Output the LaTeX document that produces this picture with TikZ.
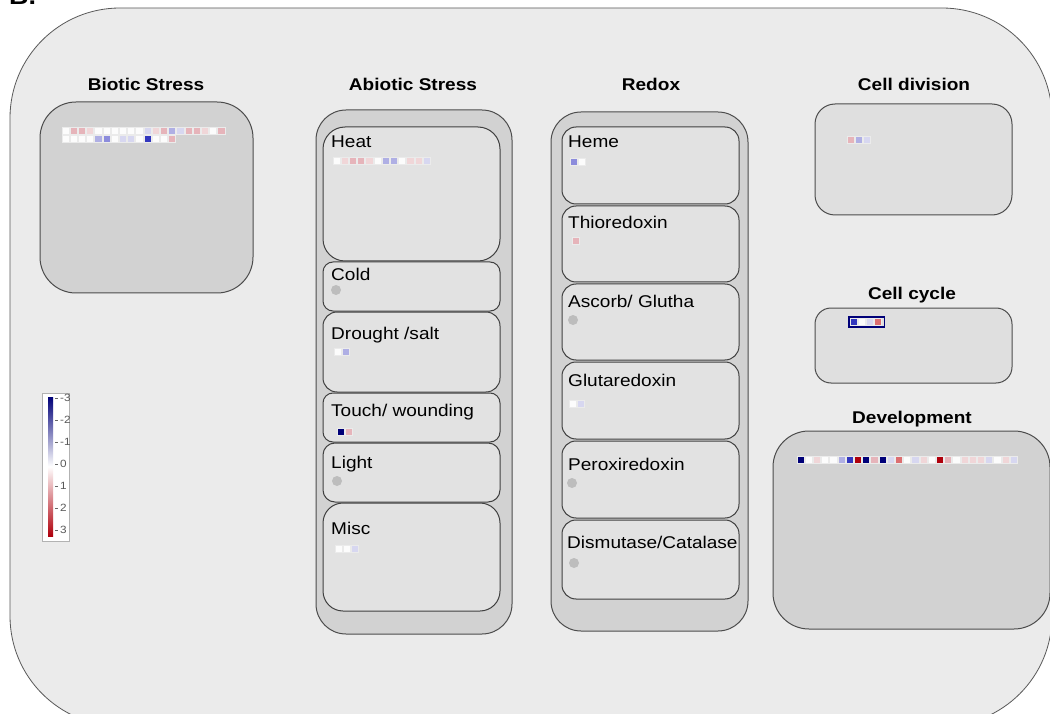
\documentclass[tikz,border=0pt]{standalone}
\usepackage{fontspec}
\setmainfont{Liberation Sans}[FakeStretch=1.12]
\definecolor{bgc}{HTML}{EBEBEB}
\definecolor{contc}{HTML}{D2D2D2}
\definecolor{innc}{HTML}{E2E2E2}
\definecolor{cellc}{HTML}{DFDFDF}
\definecolor{dotgray}{HTML}{BDBDBD}
\definecolor{nv}{RGB}{0,0,120}
\definecolor{bl}{RGB}{50,55,190}
\definecolor{mb}{RGB}{140,140,220}
\definecolor{lb}{RGB}{175,175,228}
\definecolor{pl}{RGB}{215,215,240}
\definecolor{wh}{RGB}{252,252,252}
\definecolor{pp}{RGB}{240,214,216}
\definecolor{lp}{RGB}{230,180,186}
\definecolor{sa}{RGB}{220,110,112}
\definecolor{dr}{RGB}{175,0,12}
\newcommand{\cellrow}[4]{%
  \foreach \cc [count=\ii from 0] in {#4} {%
    \filldraw[cellsq, fill=\cc] ({#1+\ii*#3},{#2}) rectangle +(7.2,7.2);}}
\tikzset{
  outerbox/.style={draw=black!65, fill=bgc, line width=0.8pt, rounded corners=110pt},
  contbox/.style={draw=black!70, fill=contc, line width=1pt},
  innerbox/.style={draw=black!75, fill=innc, line width=1pt, rounded corners=14pt},
  cellbox/.style={draw=black!70, fill=cellc, line width=1pt, rounded corners=20pt},
  ttl/.style={font=\bfseries\fontsize{17}{19}\selectfont, anchor=base, inner sep=0},
  lbl/.style={font=\fontsize{17}{19}\selectfont, anchor=base west, inner sep=0},
  leglbl/.style={font=\fontsize{10.5}{12}\selectfont, text=black!65, anchor=west, inner sep=0},
  dotc/.style={fill=dotgray},
  cellsq/.style={draw=black!8, line width=0.7pt}
}
\begin{document}
\begin{tikzpicture}[x=1pt,y=-1pt]
\useasboundingbox (0,0) rectangle (1050,714);
\clip (0,0) rectangle (1050,714);
\fill[white] (0,0) rectangle (1050,714);
% outer region
\draw[outerbox] (10,8) rectangle (1052,726);
\node[font=\bfseries\fontsize{24}{26}\selectfont, anchor=base west, inner sep=0] (blabel) at (9,5) {B.};

% ---- Biotic stress
\node[ttl] (tbiotic) at (146,91) {Biotic Stress};
\draw[contbox, rounded corners=36pt] (40,102) rectangle (253,293);
\cellrow{62}{127}{8.2}{wh,lp,lp,pp,wh,wh,wh,wh,wh,wh,pl,pp,lp,lb,pl,lp,lp,pp,wh,lp}
\cellrow{62}{135}{8.2}{wh,wh,wh,wh,lb,mb,wh,pl,pl,wh,bl,wh,wh,lp}

% ---- Legend
\draw[draw=black!30, fill=white, line width=0.6pt] (42,393) rectangle (69,541);
\shade[top color=nv, bottom color=dr, middle color=white] (48,397) rectangle (53,536);
\foreach \yy/\tt [count=\k] in {398/-3,420/-2,442/-1,464/0,486/1,508/2,530/3} {
  \draw[black!60, line width=0.6pt] (55,\yy) -- (58,\yy);
  \node[leglbl] (leg\k) at (60,\yy) {\tt};
}

% ---- Abiotic stress
\node[ttl] (tabiotic) at (413,91) {Abiotic Stress};
\draw[contbox, rounded corners=30pt] (316,110) rectangle (512,634);
\draw[innerbox, rounded corners=22pt] (323,127) rectangle (500,261);
\draw[innerbox, rounded corners=10pt] (323,262) rectangle (500,311);
\draw[innerbox, rounded corners=14pt] (323,312) rectangle (500,392);
\draw[innerbox, rounded corners=10pt] (323,393) rectangle (500,442);
\draw[innerbox, rounded corners=12pt] (323,443) rectangle (500,502);
\draw[innerbox, rounded corners=20pt] (323,503) rectangle (500,611);
\node[lbl] (heat) at (331,148) {Heat};
\node[lbl] (cold) at (331,280) {Cold};
\node[lbl] (drought) at (331,339) {Drought /salt};
\node[lbl] (touch) at (331,416) {Touch/ wounding};
\node[lbl] (light) at (331,468) {Light};
\node[lbl] (misc) at (331,534) {Misc};
\cellrow{333}{157}{8.2}{wh,pp,lp,lp,pp,wh,lb,lb,wh,pp,pp,pl}
\fill[dotc] (336,290) circle (5);
\cellrow{334}{348}{8.2}{wh,lb}
\cellrow{337}{428}{8.2}{nv,lp}
\fill[dotc] (337,481) circle (5);
\cellrow{335}{545}{8.2}{wh,wh,pl}

% ---- Redox
\node[ttl] (tredox) at (651,91) {Redox};
\draw[contbox, rounded corners=30pt] (551,112) rectangle (748,631);
\draw[innerbox] (562,127) rectangle (739,204);
\draw[innerbox] (562,206) rectangle (739,282);
\draw[innerbox] (562,284) rectangle (739,360);
\draw[innerbox] (562,362) rectangle (739,439);
\draw[innerbox] (562,441) rectangle (739,518);
\draw[innerbox] (562,520) rectangle (739,599);
\node[lbl] (heme) at (568,148) {Heme};
\node[lbl] (thio) at (568,229) {Thioredoxin};
\node[lbl] (ascorb) at (568,307) {Ascorb/ Glutha};
\node[lbl] (gluta) at (568,386) {Glutaredoxin};
\node[lbl] (perox) at (568,470) {Peroxiredoxin};
\node[lbl] (dismut) at (567,548) {Dismutase/Catalase};
\cellrow{570}{158}{8.2}{mb,wh}
\cellrow{572}{237}{8.2}{lp}
\fill[dotc] (573,320) circle (5);
\cellrow{569}{400}{8.2}{wh,pl}
\fill[dotc] (572,483) circle (5);
\fill[dotc] (574,563) circle (5);

% ---- Cell division
\node[ttl] (tdiv) at (914,91) {Cell division};
\draw[cellbox] (815,104) rectangle (1012,215);
\cellrow{847}{136}{8.2}{lp,lb,pl}

% ---- Cell cycle
\node[ttl] (tcycle) at (912,299) {Cell cycle};
\draw[cellbox, rounded corners=16pt] (815,308) rectangle (1012,383);
\cellrow{850}{318.5}{8.2}{bl,wh,pl,sa}
\draw[nv, line width=1.2pt] (849,317) rectangle (884.5,327);

% ---- Development
\node[ttl] (tdev) at (912,423) {Development};
\draw[contbox, rounded corners=36pt] (773,431) rectangle (1050,629);
\cellrow{797}{456}{8.2}{nv,wh,pp,wh,wh,lb,bl,dr,nv,lp,nv,pl,sa,wh,pl,pp,wh,dr,lp,wh,pp,pp,pp,pl,wh,pp,pl}
\end{tikzpicture}
\end{document}
